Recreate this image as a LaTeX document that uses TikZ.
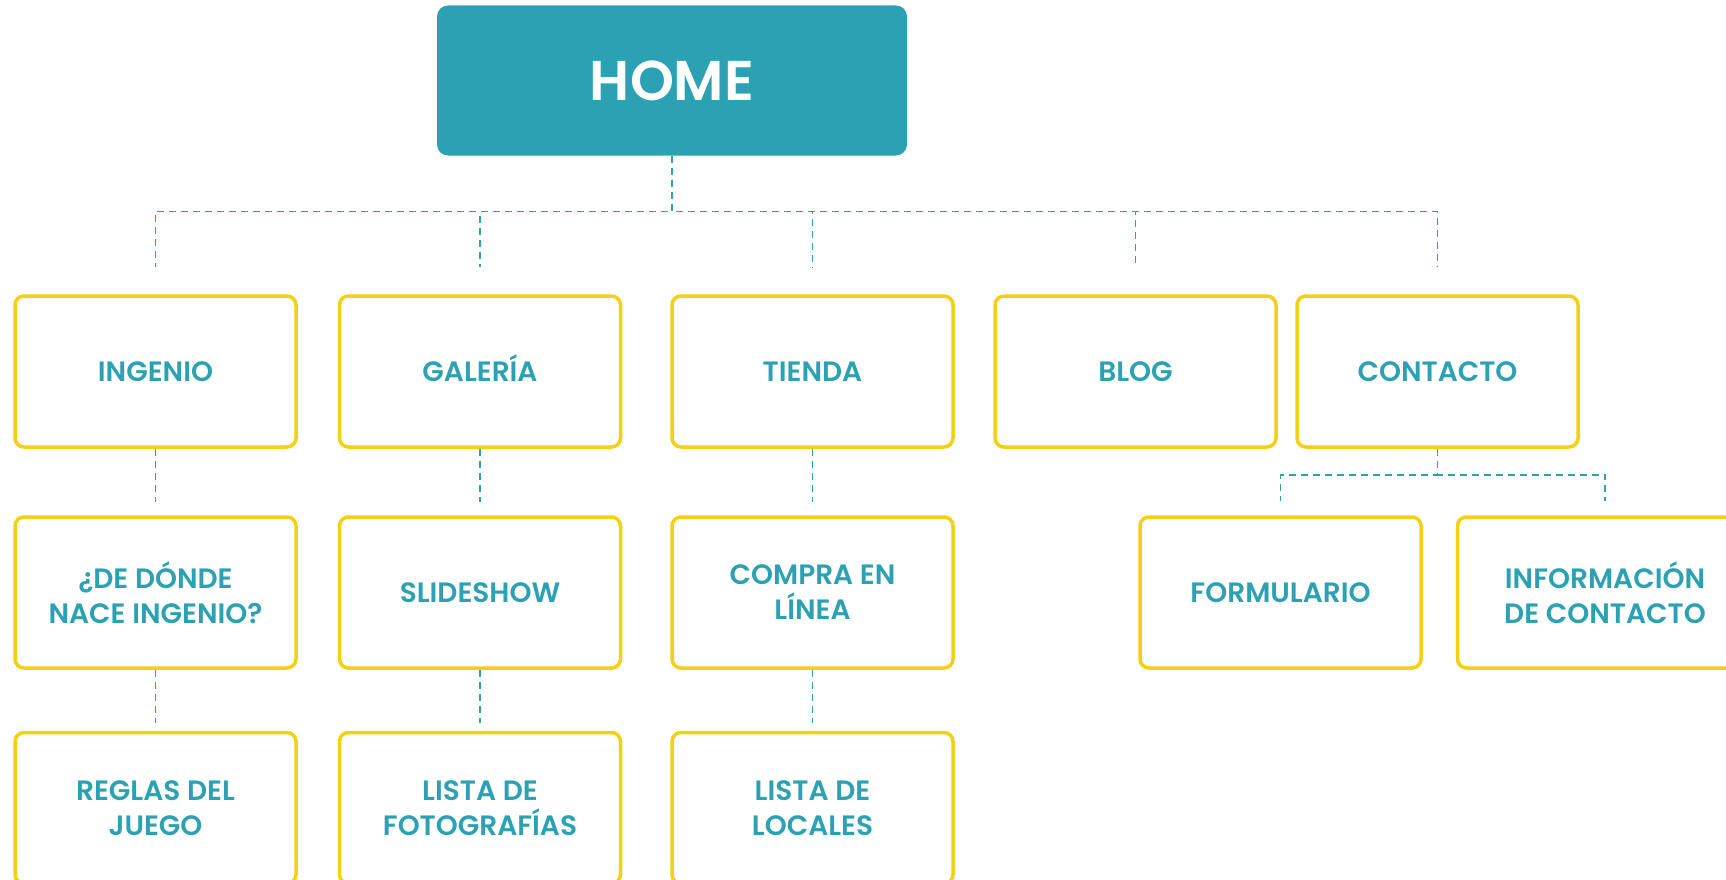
\documentclass[tikz,border=0pt]{standalone}
\usepackage{fontspec}
\setmainfont{Poppins}[BoldFont={Poppins SemiBold}]
\usetikzlibrary{positioning}
\definecolor{mapteal}{RGB}{44,161,179}
\definecolor{mapyellow}{RGB}{245,208,18}

\begin{document}
\begin{tikzpicture}[x=1pt,y=-1pt,
      link/.style={draw=mapteal,line width=1.5pt,dash pattern=on 7pt off 5pt}]
    \tikzstyle{page} = [draw=mapyellow,line width=3.5pt,rounded corners=9pt,
      minimum width=281pt,minimum height=151pt,align=center,text=mapteal,
      font=\bfseries\fontsize{28}{35}\selectfont]
    \tikzstyle{root} = [fill=mapteal,rounded corners=11pt,minimum width=470pt,
      minimum height=150pt,text=white,font=\bfseries\fontsize{56}{60}\selectfont]
    \useasboundingbox (0,0) rectangle (1726,880);
    \clip (0,0) rectangle (1726,880);
    \node (home) [root] at (672,80.5) {HOME};
    \node (ingenio) [page] at (155.5,371.5) {INGENIO};
    \node (galeria) [page] at (480,371.5) {GALER\smash{Í}A};
    \node (tienda) [page] at (812.5,371.5) {TIENDA};
    \node (blog) [page] at (1135.5,371.5) {BLOG};
    \node (contacto) [page] at (1437.5,371.5) {CONTACTO};
    \node (nace) [page] at (155.5,592.5) {¿DE DÓNDE\\NACE INGENIO?};
    \node (slideshow) [page] at (480,592.5) {SLIDESHOW};
    \node (compra) [page] at (812.5,592.5) {COMPRA EN\\LÍNEA};
    \node (formulario) [page] at (1280.5,592.5) {FORMULARIO};
    \node (informacion) [page] at (1598,592.5) {\hspace*{14pt}INFORMACIÓN\\\hspace*{14pt}DE CONTACTO};
    \node (reglas) [page] at (155.5,808) {REGLAS DEL\\JUEGO};
    \node (fotos) [page] at (480,808) {LISTA DE\\FOTOGRAFÍAS};
    \node (locales) [page] at (812.5,808) {LISTA DE\\LOCALES};
    \foreach \sub in {ingenio,galeria,tienda,blog,contacto}
      \draw [link,shorten >=27pt] (home.south) -- ++(0,56) -| (\sub.north);
    \draw [link,shorten >=14pt] (contacto.south) -- ++(0,26) -| (formulario.north);
    \draw [link,shorten >=14pt] (contacto.south) -- ++(0,26) -| ([xshift=7pt]informacion.north);
    \draw [link,shorten >=13pt] (ingenio) -- (nace);
    \draw [link,shorten >=13pt] (galeria) -- (slideshow);
    \draw [link,shorten >=13pt] (tienda) -- (compra);
    \draw [link,shorten >=8pt] (nace) -- (reglas);
    \draw [link,shorten >=8pt] (slideshow) -- (fotos);
    \draw [link,shorten >=8pt] (compra) -- (locales);
\end{tikzpicture}
\end{document}
